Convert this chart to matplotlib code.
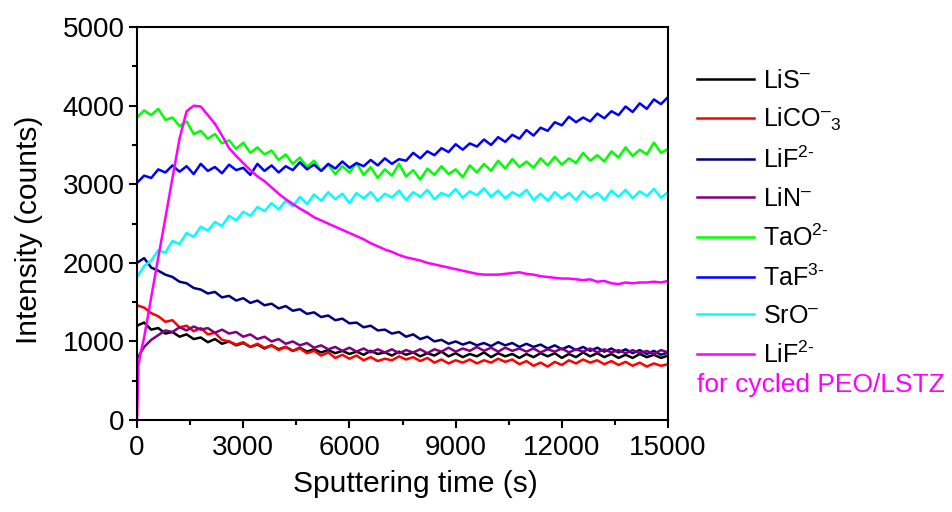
import numpy as np
from matplotlib import pyplot as plt

plt.rcParams['font.family'] = ['Liberation Sans', 'DejaVu Sans']
plt.rcParams['mathtext.fontset'] = 'custom'
plt.rcParams['mathtext.rm'] = 'Liberation Sans'
plt.rcParams['mathtext.it'] = 'Liberation Sans'

# sputtering time grid (s)
t = list(range(0, 15001, 200))
t_mag = [0, 40, 100] + list(range(200, 15001, 200))

lis = [1200, 1240, 1150, 1170, 1100, 1120, 1060, 1090, 1030, 1050, 990, 1030, 970, 1000, 950, 980,
       930, 960, 910, 950, 900, 930, 880, 920, 870, 900, 860, 890, 850, 880, 840, 870,
       830, 880, 840, 860, 820, 870, 830, 860, 810, 850, 820, 870, 810, 850, 800, 840,
       810, 860, 800, 850, 810, 840, 790, 840, 800, 850, 810, 850, 790, 840, 800, 860,
       810, 850, 800, 840, 790, 830, 790, 840, 800, 830, 790, 820]
lico3 = [1460, 1430, 1360, 1320, 1250, 1270, 1180, 1200, 1130, 1170, 1090, 1110, 1020, 1000, 960, 990,
         930, 970, 920, 950, 890, 930, 880, 910, 850, 880, 820, 860, 790, 830, 780, 820,
         760, 800, 750, 780, 760, 810, 770, 800, 750, 790, 730, 770, 720, 760, 730, 770,
         720, 760, 730, 780, 740, 770, 710, 750, 690, 730, 680, 740, 700, 760, 720, 770,
         730, 760, 710, 750, 700, 740, 690, 730, 680, 720, 690, 710]
lif = [2000, 2060, 1940, 1900, 1850, 1820, 1760, 1740, 1680, 1660, 1610, 1630, 1560, 1580, 1520, 1550,
       1490, 1520, 1460, 1480, 1420, 1450, 1390, 1410, 1350, 1370, 1310, 1330, 1270, 1290, 1230, 1240,
       1180, 1200, 1140, 1150, 1100, 1120, 1060, 1090, 1030, 1060, 1000, 1020, 970, 1000, 960, 990,
       950, 980, 940, 990, 950, 980, 930, 970, 930, 960, 910, 950, 900, 940, 890, 930,
       880, 920, 870, 910, 860, 900, 850, 890, 840, 880, 830, 860]
lin = [780, 930, 1020, 1080, 1140, 1120, 1180, 1140, 1190, 1150, 1170, 1110, 1150, 1100, 1120, 1060,
       1090, 1030, 1060, 1000, 1030, 970, 1000, 950, 980, 920, 950, 900, 930, 880, 920, 870,
       910, 860, 900, 860, 900, 850, 890, 860, 900, 850, 900, 870, 920, 870, 910, 880,
       930, 880, 920, 870, 920, 880, 910, 870, 910, 860, 900, 870, 910, 860, 900, 870,
       910, 860, 900, 860, 890, 850, 890, 850, 880, 840, 890, 860]
tao = [3850, 3940, 3880, 3960, 3820, 3850, 3740, 3800, 3640, 3680, 3580, 3640, 3520, 3560, 3450, 3530,
       3400, 3470, 3380, 3430, 3310, 3380, 3260, 3340, 3220, 3300, 3170, 3250, 3130, 3230, 3150, 3270,
       3120, 3220, 3080, 3190, 3110, 3260, 3100, 3180, 3060, 3200, 3120, 3230, 3130, 3190, 3090, 3240,
       3150, 3260, 3170, 3300, 3200, 3320, 3220, 3290, 3210, 3330, 3240, 3350, 3250, 3330, 3270, 3400,
       3300, 3370, 3290, 3420, 3340, 3470, 3360, 3440, 3380, 3530, 3400, 3450]
taf = [3020, 3110, 3080, 3190, 3150, 3240, 3160, 3230, 3130, 3260, 3170, 3220, 3140, 3250, 3180, 3210,
       3120, 3260, 3170, 3240, 3150, 3230, 3180, 3280, 3190, 3250, 3170, 3260, 3200, 3290, 3210, 3270,
       3230, 3310, 3240, 3330, 3260, 3320, 3300, 3400, 3330, 3420, 3370, 3460, 3410, 3510, 3440, 3520,
       3480, 3570, 3500, 3600, 3540, 3630, 3580, 3690, 3620, 3720, 3680, 3790, 3750, 3860, 3790, 3850,
       3800, 3900, 3840, 3930, 3880, 3990, 3920, 4030, 3960, 4080, 4020, 4110]
sro = [1820, 1960, 2030, 2160, 2130, 2280, 2240, 2380, 2330, 2460, 2410, 2520, 2470, 2600, 2540, 2650,
       2600, 2710, 2660, 2760, 2680, 2790, 2720, 2840, 2750, 2870, 2790, 2900, 2810, 2880, 2760, 2890,
       2820, 2900, 2790, 2880, 2830, 2920, 2800, 2900, 2840, 2930, 2810, 2890, 2850, 2940, 2830, 2910,
       2860, 2950, 2840, 2920, 2820, 2900, 2850, 2930, 2800, 2880, 2790, 2900, 2820, 2890, 2800, 2910,
       2830, 2890, 2800, 2920, 2840, 2930, 2820, 2910, 2850, 2940, 2830, 2900]
lif_cyc = [0, 700, 850, 1050, 1560, 2070, 2570, 3080, 3580, 3930, 4000, 3990, 3880, 3770, 3620, 3460,
           3360, 3270, 3180, 3100, 3040, 2960, 2880, 2810, 2750, 2690, 2640, 2580, 2540, 2500, 2460, 2420,
           2380, 2340, 2300, 2250, 2210, 2170, 2140, 2100, 2070, 2050, 2030, 2000, 1980, 1960, 1940, 1920,
           1900, 1880, 1860, 1850, 1850, 1850, 1860, 1870, 1880, 1860, 1850, 1830, 1820, 1810, 1800, 1800,
           1790, 1780, 1790, 1760, 1770, 1740, 1730, 1750, 1740, 1750, 1750, 1760, 1750, 1770]

fig, ax = plt.subplots(figsize=(9.53, 5.12), dpi=100)
fig.subplots_adjust(left=0.1438, right=0.701, bottom=0.1797, top=0.947)

lw = 1.8
ax.plot(t, lis, color='black', lw=lw, label='LiS$^{\u2013}$')
ax.plot(t, lico3, color='red', lw=lw, label='LiCO$^{\u2013}$$_{3}$')
ax.plot(t, lif, color='#000080', lw=lw, label=r'LiF$^{2\text{-}}$')
ax.plot(t, lin, color='#800080', lw=lw, label='LiN$^{\u2013}$')
ax.plot(t, tao, color='#00ff00', lw=lw, label=r'TaO$^{2\text{-}}$')
ax.plot(t, taf, color='#0000ff', lw=lw, label=r'TaF$^{3\text{-}}$')
ax.plot(t, sro, color='#00ffff', lw=lw, label='SrO$^{\u2013}$')
ax.plot(t_mag, lif_cyc, color='#ff00ff', lw=lw, label=r'LiF$^{2\text{-}}$')

ax.set_xlim(0, 15000)
ax.set_ylim(0, 5000)
ax.set_xticks(range(0, 15001, 3000))
ax.set_xticks(range(0, 15001, 1500), minor=True)
ax.set_yticks(range(0, 5001, 1000))
ax.set_yticks(range(0, 5001, 500), minor=True)
ax.tick_params(which='major', direction='out', length=6, width=1.5, labelsize=20)
ax.tick_params(which='minor', direction='out', length=3.5, width=1.5)
ax.tick_params(axis='x', which='major', pad=5)
ax.tick_params(axis='y', which='major', pad=3)
for s in ax.spines.values():
    s.set_linewidth(1.5)
ax.set_xlabel('Sputtering time (s)', fontsize=21.5, labelpad=6)
ax.set_ylabel('Intensity (counts)', fontsize=21.5, labelpad=14)
ax.xaxis.label.set_x(0.524)
ax.yaxis.label.set_y(0.484)

leg = fig.legend(loc='upper left', bbox_to_anchor=(0.731, 0.866), frameon=False,
                 fontsize=18, handlelength=2.3, handletextpad=0.35, labelspacing=0.54,
                 borderpad=0, borderaxespad=0)
fig.text(0.731, 0.248, 'for cycled PEO/LSTZ', color='#ff00ff', fontsize=19, va='center')

plt.savefig('out.png', dpi=100)
